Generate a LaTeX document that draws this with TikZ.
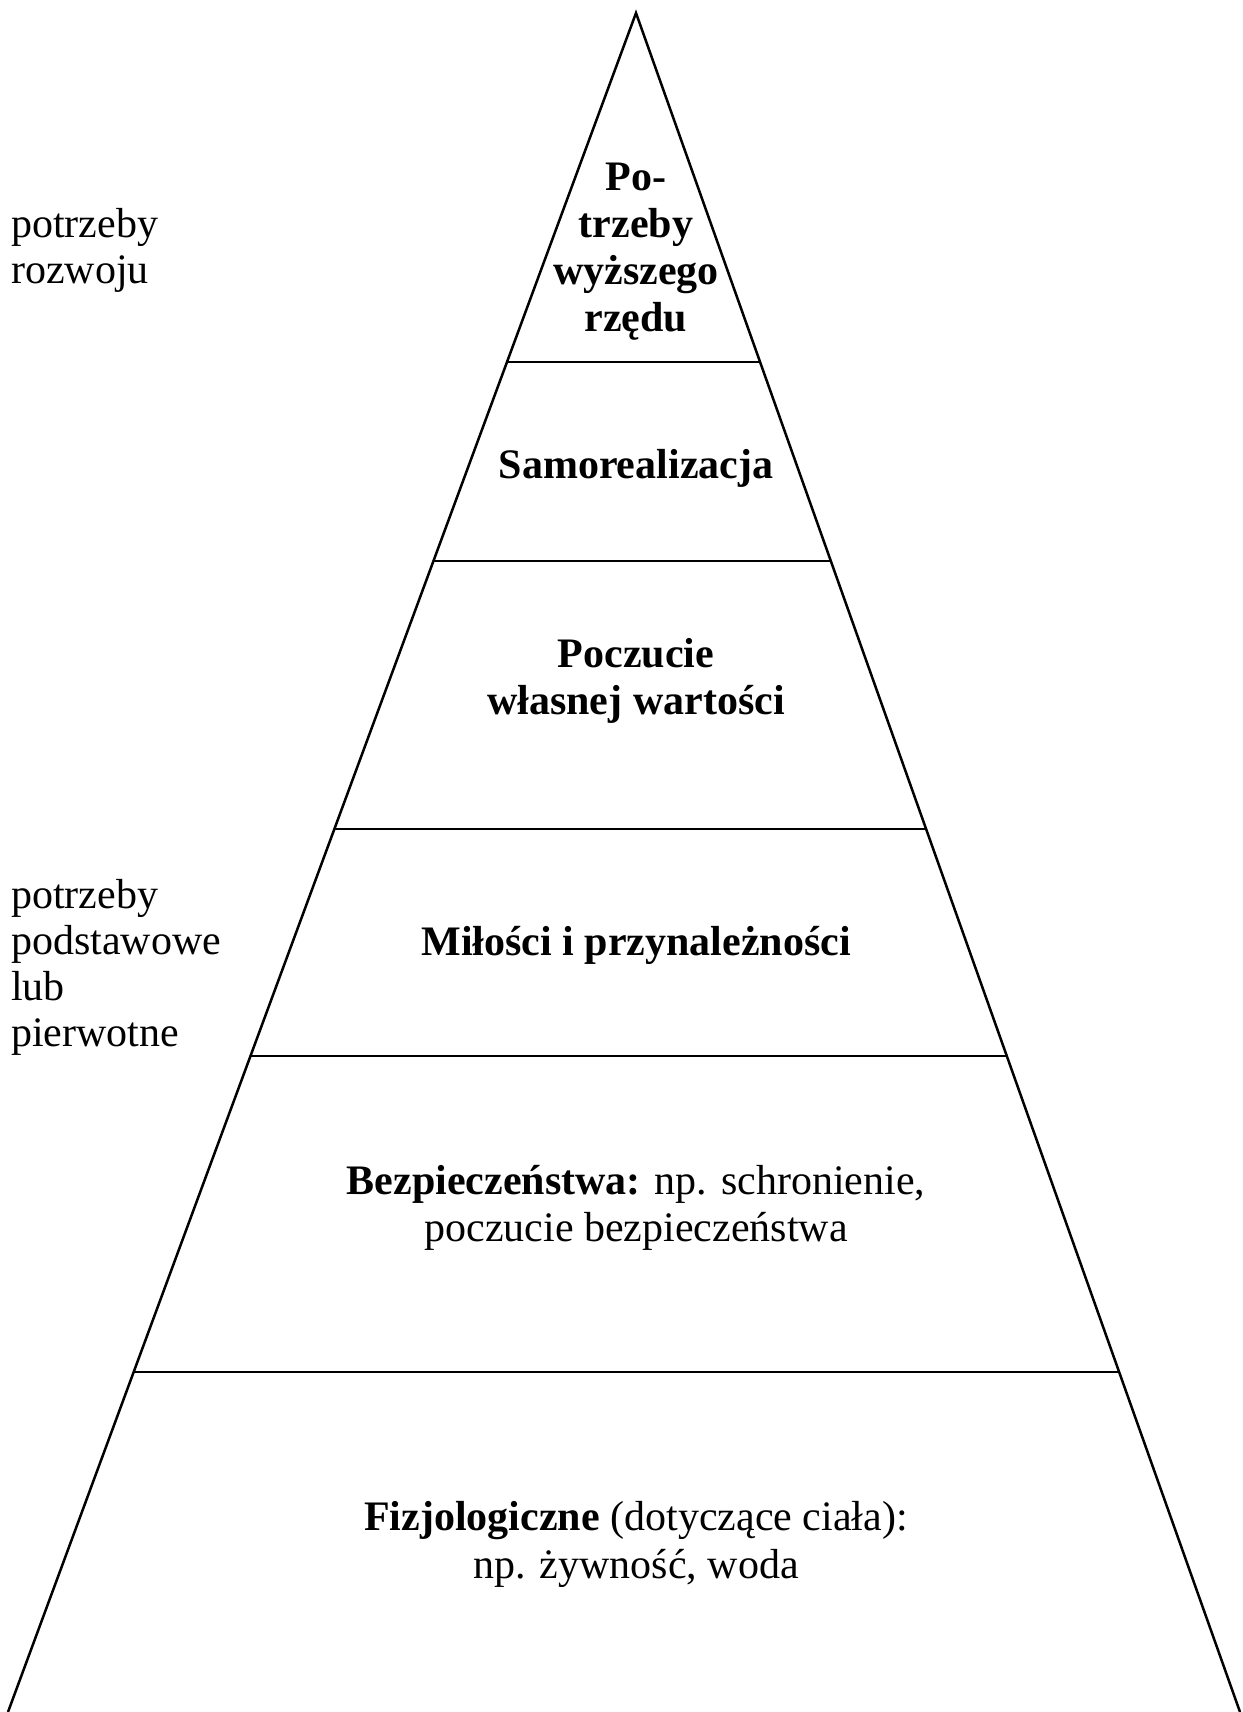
\documentclass[tikz,border=0pt]{standalone}
\usepackage{fontspec}
\setmainfont{Liberation Serif}
\usetikzlibrary{calc}
\tikzset{
	levellabel/.style={align=center, inner sep=0pt, font=\fontsize{42}{46}\selectfont},
	sidelabel/.style={align=left, anchor=west, inner sep=0pt, font=\fontsize{42}{46}\selectfont}
}

\begin{document}
\begin{tikzpicture}[x=1pt, y=-1pt]
		%%%%% START %%%%%
		\useasboundingbox[fill=white] (0, 0) rectangle (1242, 1712);
		
		\coordinate (apex) at (636, 13);
		\coordinate (bl) at (8, 1712);
		\coordinate (br) at (1240, 1712);
		
		\draw[line width=2.5pt, line join=miter] (bl) -- (apex) -- (br);
		
		\foreach \y in {362, 561, 829, 1056, 1372}
			\draw[line width=2pt] ($(apex)!{(\y-13)/1699}!(bl)$) -- ($(apex)!{(\y-13)/1699}!(br)$);
		
		\node[levellabel, font=\fontsize{42}{47}\selectfont\bfseries] (wyzsze) at (636, 252) {Po-\\trzeby\\wyższego\\rzędu};
		\node[levellabel, font=\fontsize{42}{46}\selectfont\bfseries] (samo) at (636, 468) {Samorealizacja};
		\node[levellabel, font=\fontsize{42}{47}\selectfont\bfseries] (wartosc) at (636, 681) {Poczucie\\własnej wartości};
		\node[levellabel, font=\fontsize{42}{46}\selectfont\bfseries] (milosc) at (636, 945) {Miłości i przynależności};
		\node[levellabel, font=\fontsize{42}{47}\selectfont] (bezp) at (636, 1208) {\textbf{Bezpieczeństwa:} np. schronienie,\\poczucie bezpieczeństwa};
		\node[levellabel, font=\fontsize{42}{48}\selectfont] (fizjo) at (636, 1544) {\textbf{Fizjologiczne} (dotyczące ciała):\\np. żywność, woda};
		
		\node[sidelabel] (rozwoj) at (11, 250) {potrzeby\\rozwoju};
		\node[sidelabel] (podst) at (11, 967) {potrzeby\\podstawowe\\lub\\pierwotne};
		
		%%%%% END %%%%%
	\end{tikzpicture}
\end{document}
